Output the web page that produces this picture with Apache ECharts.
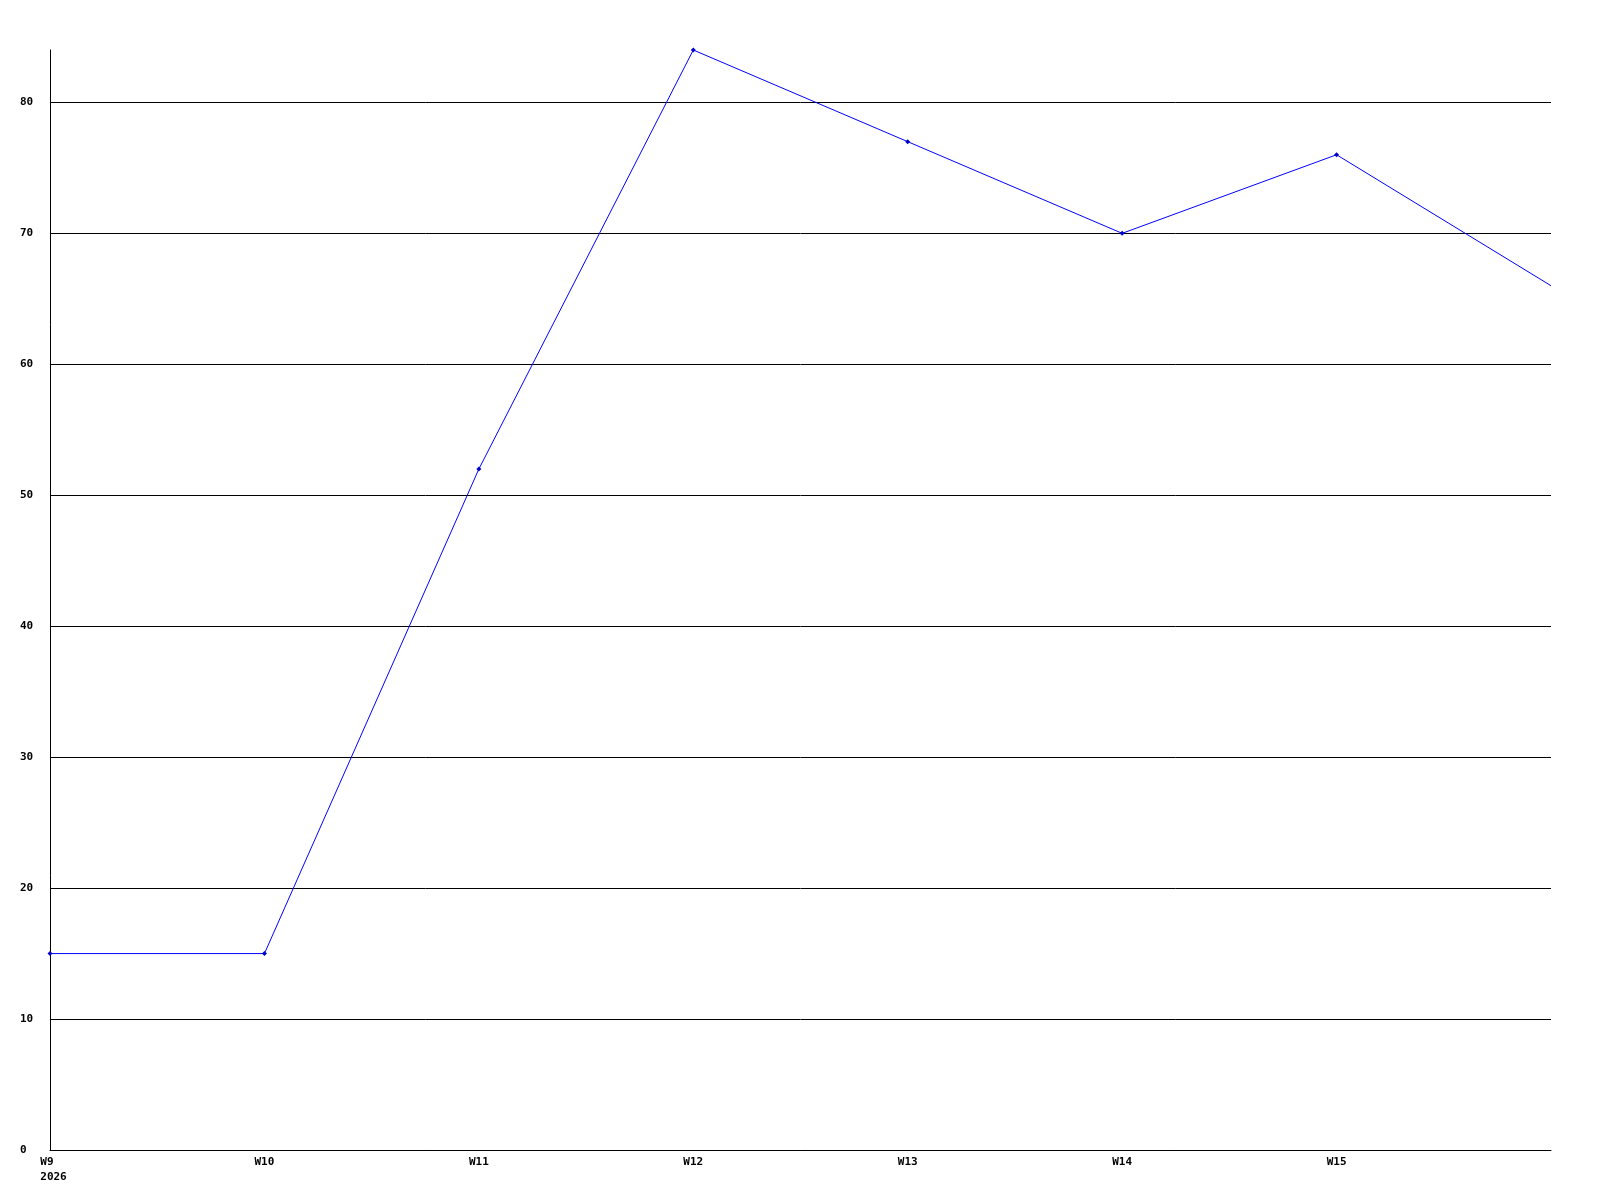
<!DOCTYPE html>
<html>
<head>
<meta charset="utf-8">
<script src="https://cdn.jsdelivr.net/npm/echarts@6/dist/echarts.min.js"></script>
<style>
  html, body { margin: 0; padding: 0; background: #fff; }
  #chart { width: 1600px; height: 1200px; }
</style>
</head>
<body>
<div id="chart"></div>
<script>
// weekly values, last point sits on the right edge without a label
var weeks = ['W9', 'W10', 'W11', 'W12', 'W13', 'W14', 'W15', 'W16'];
var values = [15, 15, 52, 84, 77, 70, 76, 66];
var yearLabel = '2026';
var yMax = 84;

var font = 'DejaVu Sans Mono';
var chart = echarts.init(document.getElementById('chart'));
var option = {
  backgroundColor: '#ffffff',
  animation: false,
  grid: { left: 50, right: 49, top: 50, bottom: 50, containLabel: false },
  xAxis: {
    type: 'category',
    data: weeks,
    boundaryGap: false,
    axisLine: { lineStyle: { color: '#000', width: 1 } },
    axisTick: { show: false },
    splitLine: { show: false },
    axisLabel: {
      margin: 5,
      color: '#000',
      fontFamily: font,
      fontWeight: 'bold',
      fontSize: 11,
      lineHeight: 15,
      interval: function (i) { return i < weeks.length - 1; },
      formatter: function (v, i) {
        if (i === 0) return '{f|' + v + '}\n{f|' + yearLabel + '}';
        return v;
      },
      rich: {
        f: { fontFamily: font, fontWeight: 'bold', fontSize: 11, color: '#000', align: 'left', padding: [0, 0, 0, 7], lineHeight: 15 }
      }
    }
  },
  yAxis: {
    type: 'value',
    min: 0,
    max: yMax,
    interval: 10,
    axisLine: { show: true, lineStyle: { color: '#000', width: 1 } },
    axisTick: { show: false },
    splitLine: { show: true, showMaxLine: false, lineStyle: { color: '#000', width: 1 } },
    axisLabel: {
      margin: 30,
      align: 'left',
      showMaxLabel: false,
      color: '#000',
      fontFamily: font,
      fontWeight: 'bold',
      fontSize: 11
    }
  },
  series: [{
    type: 'line',
    data: values,
    symbol: function (v, p) { return p.dataIndex === values.length - 1 ? 'none' : 'diamond'; },
    symbolSize: 5,
    showAllSymbol: true,
    lineStyle: { color: '#0000ff', width: 1 },
    itemStyle: { color: '#0000cc', borderWidth: 0 }
  }]
};
chart.setOption(option);
</script>
</body>
</html>
